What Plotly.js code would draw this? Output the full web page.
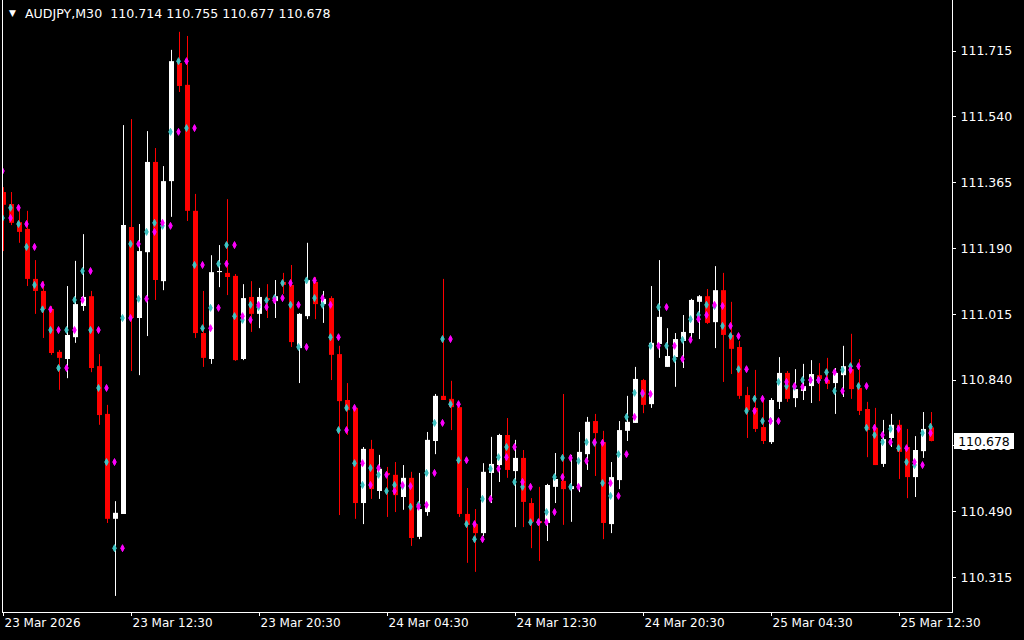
<!DOCTYPE html>
<html><head><meta charset="utf-8">
<script src="https://cdn.plot.ly/plotly-3.0.1.min.js"></script>
<style>html,body{margin:0;padding:0;background:#000;}#chart{width:1024px;height:640px;}</style>
</head><body><div id="chart"></div>
<script>
const symbolName = "AUDJPY,M30";
const timeTickBars = [0, 16, 32, 48, 64, 80, 96, 112];
const timeTickLabels = ["23 Mar 2026", "23 Mar 12:30", "23 Mar 20:30", "24 Mar 04:30", "24 Mar 12:30", "24 Mar 20:30", "25 Mar 04:30", "25 Mar 12:30"];
const priceTicks = [110.315, 110.490, 110.665, 110.840, 111.015, 111.190, 111.365, 111.540, 111.715];

const open = [
111.340, 111.308, 111.260, 111.242, 111.109, 111.077, 111.029, 110.915, 110.896, 110.954,
111.037, 111.063, 110.877, 110.750, 110.471, 110.484, 111.247, 111.005, 111.180, 111.420,
111.103, 111.369, 111.683, 111.625, 111.290, 110.965, 110.896, 111.127, 111.125, 111.117,
110.896, 111.061, 111.016, 111.058, 111.050, 111.101, 111.093, 110.925, 111.010, 111.101,
111.042, 111.058, 110.909, 110.787, 110.766, 110.513, 110.657, 110.545, 110.593, 110.588,
110.529, 110.580, 110.423, 110.489, 110.678, 110.798, 110.790, 110.768, 110.484, 110.457,
110.433, 110.593, 110.614, 110.694, 110.598, 110.633, 110.513, 110.465, 110.460, 110.556,
110.572, 110.550, 110.556, 110.643, 110.731, 110.675, 110.457, 110.574, 110.705, 110.726,
110.840, 110.776, 110.936, 110.875, 110.901, 110.944, 110.965, 111.048, 111.063, 110.994,
111.079, 110.960, 110.928, 110.800, 110.766, 110.715, 110.675, 110.782, 110.859, 110.792,
110.811, 110.824, 110.853, 110.840, 110.832, 110.853, 110.869, 110.819, 110.763, 110.713,
110.617, 110.686, 110.721, 110.662, 110.582, 110.651, 110.714];
const high = [
111.353, 111.340, 111.303, 111.290, 111.159, 111.103, 111.037, 110.920, 111.090, 111.157,
111.228, 111.077, 110.909, 110.774, 110.518, 111.518, 111.534, 111.255, 111.502, 111.457,
111.409, 111.718, 111.766, 111.755, 111.335, 111.077, 111.172, 111.199, 111.321, 111.122,
111.095, 111.103, 111.085, 111.095, 111.106, 111.125, 111.146, 111.018, 111.205, 111.114,
111.077, 111.063, 110.931, 110.832, 110.768, 110.662, 110.681, 110.641, 110.609, 110.622,
110.614, 110.596, 110.593, 110.702, 110.803, 111.109, 110.838, 110.776, 110.553, 110.497,
110.619, 110.689, 110.697, 110.739, 110.681, 110.654, 110.526, 110.556, 110.564, 110.646,
110.803, 110.641, 110.702, 110.742, 110.750, 110.705, 110.622, 110.731, 110.798, 110.875,
110.843, 111.090, 111.159, 110.978, 110.965, 111.013, 111.056, 111.066, 111.082, 111.143,
111.125, 111.048, 110.944, 110.822, 110.867, 110.792, 110.792, 110.901, 110.864, 110.869,
110.883, 110.893, 110.885, 110.899, 110.872, 110.931, 110.963, 110.896, 110.782, 110.766,
110.734, 110.750, 110.734, 110.710, 110.691, 110.755, 110.755];
const low = [
111.183, 111.252, 111.205, 111.090, 111.016, 110.952, 110.907, 110.814, 110.845, 110.939,
111.024, 110.861, 110.721, 110.460, 110.266, 110.484, 110.864, 110.853, 110.957, 111.053,
111.079, 111.274, 111.606, 111.263, 110.952, 110.875, 110.883, 111.087, 111.066, 110.891,
110.893, 110.968, 110.978, 111.005, 111.005, 111.069, 110.928, 110.832, 111.002, 111.002,
110.992, 110.840, 110.481, 110.694, 110.471, 110.457, 110.524, 110.524, 110.476, 110.489,
110.495, 110.399, 110.417, 110.479, 110.643, 110.787, 110.707, 110.476, 110.354, 110.330,
110.425, 110.513, 110.569, 110.580, 110.449, 110.449, 110.393, 110.359, 110.412, 110.513,
110.455, 110.463, 110.542, 110.601, 110.585, 110.417, 110.433, 110.550, 110.678, 110.726,
110.752, 110.766, 110.899, 110.875, 110.822, 110.872, 110.947, 110.949, 110.989, 110.925,
110.835, 110.856, 110.790, 110.686, 110.702, 110.670, 110.670, 110.763, 110.782, 110.768,
110.787, 110.779, 110.784, 110.816, 110.750, 110.795, 110.790, 110.747, 110.635, 110.614,
110.609, 110.662, 110.577, 110.526, 110.529, 110.633, 110.677];
const close = [
111.306, 111.258, 111.234, 111.109, 111.077, 111.029, 110.912, 110.899, 110.960, 111.042,
111.061, 110.872, 110.747, 110.471, 110.487, 111.252, 111.005, 111.183, 111.420, 111.106,
111.369, 111.688, 111.622, 111.290, 110.965, 110.899, 111.127, 111.130, 111.114, 110.893,
111.058, 111.016, 111.061, 111.053, 111.063, 111.093, 110.941, 111.016, 111.106, 111.042,
111.056, 110.907, 110.784, 110.760, 110.513, 110.657, 110.550, 110.604, 110.588, 110.534,
110.580, 110.420, 110.497, 110.681, 110.798, 110.787, 110.768, 110.484, 110.455, 110.433,
110.596, 110.617, 110.694, 110.601, 110.633, 110.516, 110.463, 110.460, 110.561, 110.577,
110.550, 110.558, 110.649, 110.729, 110.699, 110.460, 110.582, 110.707, 110.729, 110.843,
110.774, 110.939, 111.008, 110.904, 110.949, 110.968, 111.053, 111.063, 110.992, 111.079,
110.960, 110.923, 110.798, 110.760, 110.710, 110.678, 110.787, 110.859, 110.790, 110.816,
110.824, 110.856, 110.843, 110.830, 110.859, 110.877, 110.816, 110.758, 110.707, 110.614,
110.683, 110.721, 110.649, 110.582, 110.654, 110.710, 110.678];
// indicator (cyan diamonds); magenta diamonds show the previous bar's value
const median = [
111.271, 111.298, 111.255, 111.194, 111.093, 111.028, 110.973, 110.872, 110.973, 111.053,
111.130, 110.973, 110.819, 110.622, 110.393, 111.005, 111.202, 111.056, 111.234, 111.258,
111.250, 111.500, 111.688, 111.510, 111.146, 110.978, 111.032, 111.149, 111.199, 111.010,
111.000, 111.040, 111.034, 111.052, 111.058, 111.098, 111.040, 110.928, 111.105, 111.058,
111.040, 110.954, 110.707, 110.766, 110.619, 110.561, 110.606, 110.588, 110.545, 110.561,
110.558, 110.503, 110.508, 110.593, 110.726, 110.949, 110.776, 110.627, 110.457, 110.417,
110.524, 110.604, 110.635, 110.662, 110.569, 110.556, 110.462, 110.462, 110.489, 110.582,
110.633, 110.556, 110.625, 110.675, 110.673, 110.566, 110.532, 110.643, 110.742, 110.806,
110.803, 110.931, 111.034, 110.931, 110.896, 110.947, 111.002, 111.013, 111.040, 111.037,
110.984, 110.957, 110.869, 110.758, 110.790, 110.731, 110.731, 110.835, 110.824, 110.822,
110.840, 110.840, 110.840, 110.861, 110.811, 110.867, 110.877, 110.824, 110.713, 110.694,
110.675, 110.710, 110.659, 110.622, 110.614, 110.699, 110.716];
const medianBefore = 111.396;

const UP = '#FFFFFF', DOWN = '#FF0000', CYAN = '#40C4C4', MAGENTA = '#FF00FF';
const BODY_W = 0.625, MIN_BODY = 0.0027, MARK_SHIFT = -0.125;

function series(isUp) {
  const wx = [], wy = [], bx = [], bb = [], bh = [];
  open.forEach((o, k) => {
    const c = close[k];
    if ((c > o) !== isUp) return;
    wx.push(k, k, null); wy.push(low[k], high[k], null);
    bx.push(k); bb.push(Math.min(o, c)); bh.push(Math.max(Math.abs(c - o), MIN_BODY));
  });
  const col = isUp ? UP : DOWN;
  return [
    {type: 'scatter', mode: 'lines', x: wx, y: wy, line: {color: col, width: 1}, hoverinfo: 'skip'},
    {type: 'bar', x: bx, base: bb, y: bh, width: BODY_W, marker: {color: col, line: {width: 0}}, hoverinfo: 'skip'}
  ];
}

const idx = open.map((_, k) => k);
const traces = [
  ...series(false), ...series(true),
  {type: 'scatter', mode: 'markers', x: idx.map(k => k + MARK_SHIFT), y: median,
   marker: {symbol: 'diamond-tall', size: 5, color: CYAN, line: {width: 1, color: CYAN}}, hoverinfo: 'skip'},
  {type: 'scatter', mode: 'markers', x: idx.map(k => k + MARK_SHIFT), y: [medianBefore, ...median.slice(0, -1)],
   marker: {symbol: 'diamond-tall', size: 5, color: MAGENTA, line: {width: 1, color: MAGENTA}}, hoverinfo: 'skip'}
];

const last = open.length - 1;
const L = 3, R = 72, W = 1024, H = 640, B = 28;
const plotW = W - L - R, plotH = H - B;
const headerText = symbolName + '\u00A0\u00A0' + [open[last], high[last], low[last], close[last]].map(v => v.toFixed(3)).join(' ');

const layout = {
  width: W, height: H,
  margin: {l: L, r: R, t: 0, b: B, pad: 0},
  paper_bgcolor: '#000', plot_bgcolor: '#000',
  showlegend: false, barmode: 'overlay', hovermode: false,
  font: {family: 'DejaVu Sans', size: 12, color: '#FFFFFF'},
  xaxis: {
    range: [-0.0625, -0.0625 + plotW / 8], showgrid: false, zeroline: false,
    showline: true, linecolor: '#FFFFFF', linewidth: 1,
    ticks: 'outside', ticklen: 3, tickwidth: 1, tickcolor: '#FFFFFF',
    tickvals: timeTickBars, ticktext: timeTickLabels, ticklabelposition: 'outside right',
    tickfont: {family: 'DejaVu Sans', size: 12, color: '#FFFFFF'}, fixedrange: true
  },
  yaxis: {
    side: 'right', range: [110.223257, 111.850613], showgrid: false, zeroline: false,
    showline: true, mirror: true, linecolor: '#FFFFFF', linewidth: 1,
    ticks: 'outside', ticklen: 3, tickwidth: 1, tickcolor: '#FFFFFF',
    tickvals: priceTicks, ticktext: priceTicks.map(v => v.toFixed(3)), ticklabelstandoff: 2,
    tickfont: {family: 'DejaVu Sans', size: 12.5, color: '#FFFFFF'}, fixedrange: true
  },
  annotations: [
    {xref: 'paper', yref: 'paper', x: (12 - L) / plotW, y: 1 - 13 / plotH, xanchor: 'center', yanchor: 'middle',
     text: '\u25BC', showarrow: false, font: {family: 'DejaVu Sans', size: 9, color: '#FFFFFF'}},
    {xref: 'paper', yref: 'paper', x: (23 - L) / plotW, y: 1 - 13.5 / plotH, xanchor: 'left', yanchor: 'middle',
     text: headerText, showarrow: false, font: {family: 'DejaVu Sans', size: 12.6, color: '#FFFFFF'}},
    {xref: 'paper', yref: 'y', x: (954 - L) / plotW, y: close[last], xanchor: 'left', yanchor: 'middle',
     text: close[last].toFixed(3), showarrow: false, bgcolor: '#FFFFFF', borderpad: 1, borderwidth: 0,
     width: 58, height: 14, align: 'center', font: {family: 'DejaVu Sans', size: 12.5, color: '#000000'}}
  ]
};

Plotly.newPlot('chart', traces, layout, {staticPlot: true, displayModeBar: false});
</script>
</body></html>
